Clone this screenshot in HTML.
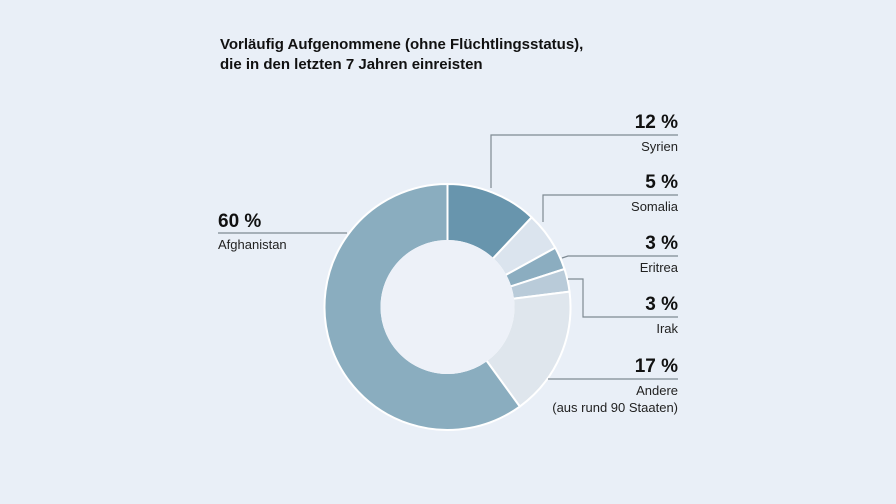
<!DOCTYPE html>
<html><head><meta charset="utf-8"><style>
body{margin:0;background:#e9eff7;}
svg{display:block;font-family:"Liberation Sans",sans-serif;}
.pct{font-family:"Liberation Sans Narrow","Liberation Sans",sans-serif;font-weight:bold;font-size:19px;fill:#111;}
.nm{font-size:13px;fill:#222;}
</style></head><body>
<svg id="c" width="896" height="504" viewBox="0 0 896 504">
<rect width="896" height="504" fill="#e9eff7"/>
<text x="220" y="49" font-size="15" font-weight="bold" fill="#111">Vorläufig Aufgenommene (ohne Flüchtlingsstatus),</text>
<text x="220" y="69" font-size="15" font-weight="bold" fill="#111">die in den letzten 7 Jahren einreisten</text>
<g id="slices"></g>
<circle cx="447.5" cy="307" r="67" fill="#edf1f8"/>
<g stroke="#7f8a93" stroke-width="1.2" fill="none">
<polyline points="491,188 491,135 678,135"/>
<polyline points="543,222 543,195 678,195"/>
<polyline points="562,258 568,256 678,256"/>
<polyline points="568,279 583,279 583,317 678,317"/>
<polyline points="548,379 678,379"/>
<polyline points="218,233 347,233"/>
</g>
<g id="labels"></g>
<text x="218" y="227" class="pct">60 %</text>
<text x="218" y="249" class="nm">Afghanistan</text>
</svg>
<script>
const categories=["Syrien","Somalia","Eritrea","Irak","Andere","Afghanistan"];
const values=[12,5,3,3,17,60];
const colors=["#6895ad","#dbe4ee","#8badc0","#b9cbd9","#dfe6ed","#8aadbf"];
const ns="http://www.w3.org/2000/svg";
const cx=447.5,cy=307,R=123,r=66;
const total=values.reduce((a,b)=>a+b,0);
function pt(a,rad){return [cx+rad*Math.sin(a),cy-rad*Math.cos(a)];}
let acc=0;const g=document.getElementById('slices');
values.forEach((v,i)=>{
 const a0=acc/total*2*Math.PI;acc+=v;const a1=acc/total*2*Math.PI;
 const lg=(a1-a0)>Math.PI?1:0;
 const [x0,y0]=pt(a0,R),[x1,y1]=pt(a1,R),[x2,y2]=pt(a1,r),[x3,y3]=pt(a0,r);
 const p=document.createElementNS(ns,'path');
 p.setAttribute('d',`M${x0},${y0}A${R},${R} 0 ${lg} 1 ${x1},${y1}L${x2},${y2}A${r},${r} 0 ${lg} 0 ${x3},${y3}Z`);
 p.setAttribute('fill',colors[i]);p.setAttribute('stroke','#ffffff');p.setAttribute('stroke-width','2');
 
 
 g.appendChild(p);
});
const lab=document.getElementById('labels');
const ys=[135,195,256,317,379];
for(let i=0;i<5;i++){
 const t=document.createElementNS(ns,'text');
 t.setAttribute('x',678);t.setAttribute('y',ys[i]-7);t.setAttribute('text-anchor','end');t.setAttribute('class','pct');
 t.textContent=values[i]+' %';
 
 
 lab.appendChild(t);
 const n=document.createElementNS(ns,'text');
 n.setAttribute('x',678);n.setAttribute('y',ys[i]+16);n.setAttribute('text-anchor','end');n.setAttribute('class','nm');
 n.textContent=categories[i];
 
 
 lab.appendChild(n);
}
const s=document.createElementNS(ns,'text');
s.setAttribute('x',678);s.setAttribute('y',ys[4]+33);s.setAttribute('text-anchor','end');s.setAttribute('class','nm');
s.textContent='(aus rund 90 Staaten)';


lab.appendChild(s);
</script>
</body></html>
